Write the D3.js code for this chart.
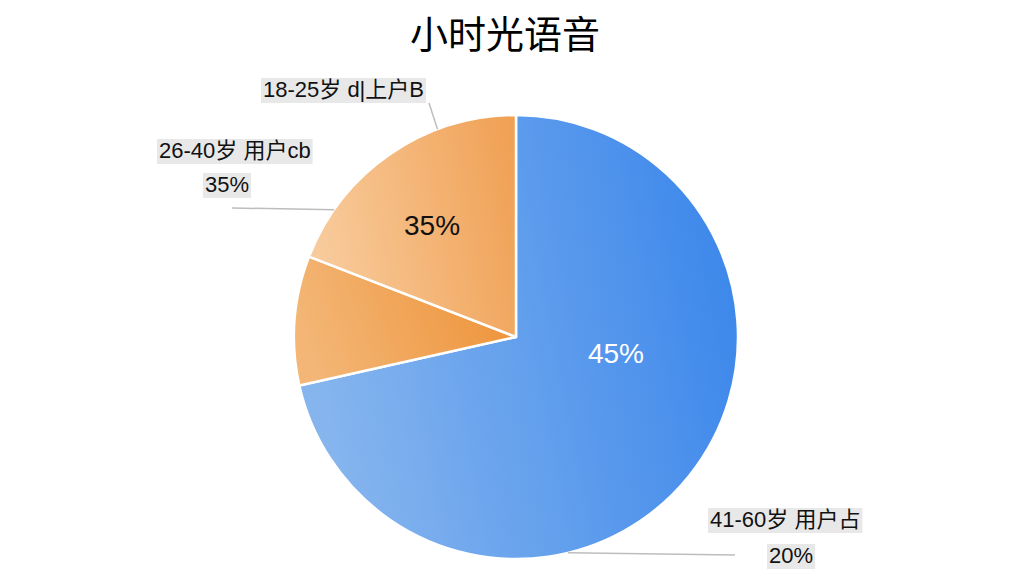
<!DOCTYPE html>
<html>
<head>
<meta charset="utf-8">
<title>小时光语音</title>
<style>
body { margin: 0; background: #fff; }
text { font-family: "Liberation Sans", "Noto Sans CJK SC", sans-serif; }
</style>
<script src="https://d3js.org/d3.v7.min.js"></script>
</head>
<body>
<svg id="chart" width="1024" height="576"></svg>
<script>
// slice data (share of the circle)
const sliceNames = ["41-60岁", "18-25岁", "26-40岁"];
const sliceValues = [71.5, 9.4, 19.1];
const innerLabels = ["45%", "", "35%"];
const outerLabels = [
  ["41-60岁 用户占", "20%"],
  ["18-25岁 d|上户B"],
  ["26-40岁 用户cb", "35%"]
];

const svg = d3.select("#chart");
const CX = 516, CY = 337, R = 222;

const defs = svg.append("defs");
function grad(id, c0, c1) {
  const g = defs.append("linearGradient").attr("id", id)
    .attr("x1", "0%").attr("y1", "40%").attr("x2", "100%").attr("y2", "20%");
  g.append("stop").attr("offset", "0%").attr("stop-color", c0);
  g.append("stop").attr("offset", "100%").attr("stop-color", c1);
}
grad("gBlue", "#86b5ee", "#3a86eb");
grad("gDark", "#f3b676", "#ee9237");
grad("gLight", "#f8cb9c", "#f0a155");
const fills = ["url(#gBlue)", "url(#gDark)", "url(#gLight)"];

svg.append("text")
  .attr("x", 505).attr("y", 48)
  .attr("text-anchor", "middle")
  .style("font-size", "38px")
  .style("font-family", "'Noto Sans CJK SC', sans-serif")
  .text("小时光语音");

const pie = d3.pie().sort(null).value(d => d);
const arcs = pie(sliceValues);
const arc = d3.arc().innerRadius(0).outerRadius(R);

const g = svg.append("g").attr("transform", `translate(${CX},${CY})`);
g.selectAll("path.slice")
  .data(arcs)
  .join("path")
  .attr("class", "slice")
  .attr("d", arc)
  .attr("fill", (d, i) => fills[i])
  .attr("stroke", "#fff")
  .attr("stroke-width", 2.5)
  .attr("stroke-linejoin", "round");

// inner percentage labels
const inArc = d3.arc().innerRadius(R * 0.5).outerRadius(R * 0.5);
const inPos = [[100, 15], null, [-84, -113]];
g.selectAll("text.inner")
  .data(arcs)
  .join("text")
  .attr("class", "inner")
  .attr("x", (d, i) => inPos[i] ? inPos[i][0] : inArc.centroid(d)[0])
  .attr("y", (d, i) => inPos[i] ? inPos[i][1] + 11 : inArc.centroid(d)[1])
  .attr("text-anchor", "middle")
  .style("font-size", "28px")
  .style("fill", (d, i) => i === 0 ? "#fff" : "#111")
  .text((d, i) => innerLabels[i]);

// leader lines: angle on the rim (degrees) -> label end point
function rim(deg) {
  const a = deg * Math.PI / 180;
  return [CX + R * Math.sin(a), CY - R * Math.cos(a)];
}
const leaders = [
  { deg: 131.7, to: [682, 485] },
  { deg: 166.5, to: [735, 555] },
  { deg: 339.3, to: [429, 103] },
  { deg: 305.0, to: [232, 208] }
];
svg.selectAll("line.leader")
  .data(leaders)
  .join("line")
  .attr("class", "leader")
  .attr("x1", d => rim(d.deg)[0]).attr("y1", d => rim(d.deg)[1])
  .attr("x2", d => d.to[0]).attr("y2", d => d.to[1])
  .attr("stroke", "#bdbdbd")
  .attr("stroke-width", 1.5);

// outer label boxes
const boxPos = [
  [[710, 527], [769, 563]],
  [[263, 97]],
  [[159, 158], [205, 192]]
];
outerLabels.forEach((lines, i) => {
  lines.forEach((txt, j) => {
    const p = boxPos[i][j];
    const lg = svg.append("g");
    const rect = lg.append("rect").attr("fill", "#e8e8e8");
    const t = lg.append("text")
      .attr("x", p[0]).attr("y", p[1])
      .style("font-size", "22px")
      .style("fill", "#111")
      .text(txt);
    const b = t.node().getBBox();
    rect.attr("x", b.x - 2).attr("y", b.y + 1)
      .attr("width", b.width + 4).attr("height", b.height);
  });
});
</script>
</body>
</html>
